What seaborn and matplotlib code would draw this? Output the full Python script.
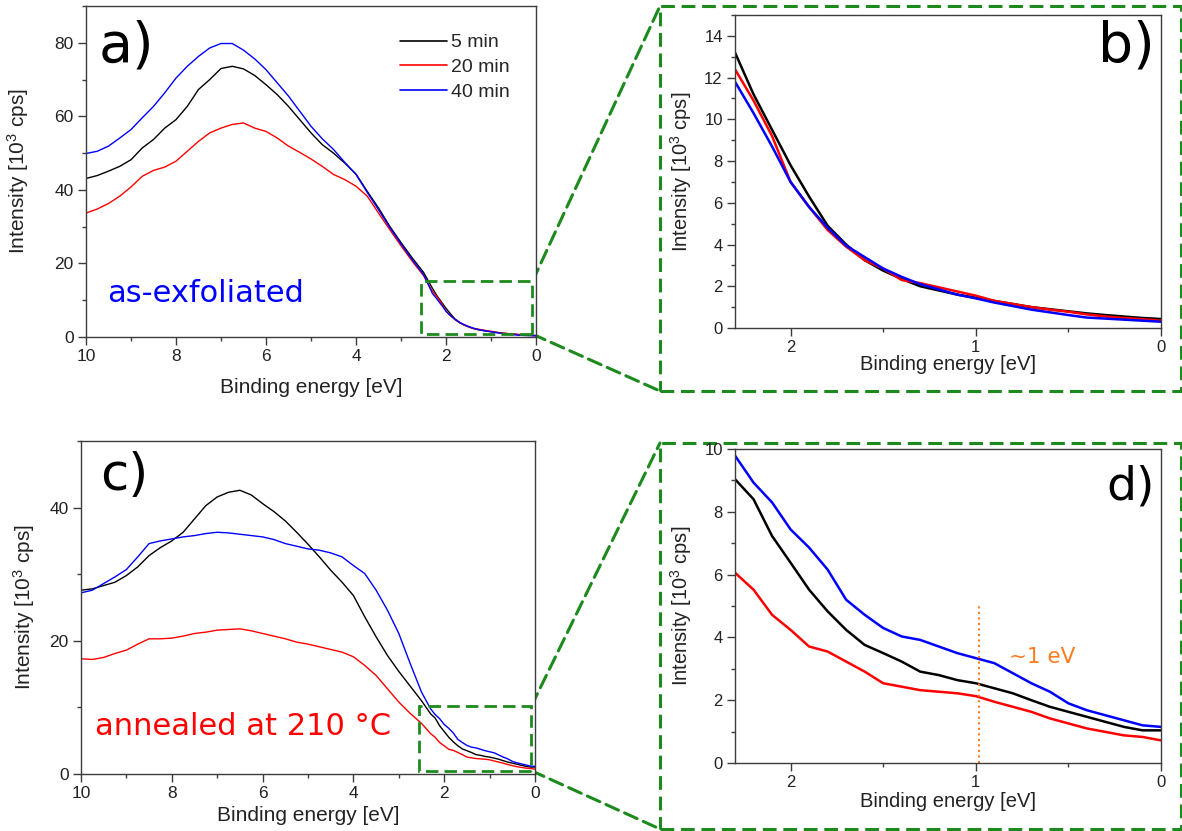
import matplotlib
matplotlib.use("Agg")
import matplotlib.pyplot as plt
import numpy as np
import pandas as pd
import seaborn as sns
from matplotlib.patches import Rectangle, ConnectionPatch
from matplotlib.ticker import MultipleLocator

# ---------------------------------------------------------------------------
# Valence-band spectra, intensity in 10^3 cps
# ---------------------------------------------------------------------------
# binding energy grid [eV]: coarse over the full band, finer near the edge
energy_wide = [10.0, 9.75, 9.5, 9.25, 9.0, 8.75, 8.5, 8.25, 8.0, 7.75, 7.5,
               7.25, 7.0, 6.75, 6.5, 6.25, 6.0, 5.75, 5.5, 5.25, 5.0, 4.75,
               4.5, 4.25, 4.0, 3.75, 3.5, 3.25, 3.0, 2.75, 2.5]
energy_edge = [2.3, 2.2, 2.1, 2.0, 1.9, 1.8, 1.7, 1.6, 1.5, 1.4, 1.3, 1.2,
               1.1, 1.0, 0.9, 0.8, 0.7, 0.6, 0.5, 0.4, 0.3, 0.2, 0.1, 0.0]

times = ["5 min", "20 min", "40 min"]

# as-exfoliated
exf_5_wide = [43.1, 43.9, 45.1, 46.4, 48.2, 51.4, 53.7, 56.8, 59.1, 62.7, 67.3,
              70.0, 73.0, 73.6, 72.9, 71.1, 68.6, 65.9, 62.7, 59.1, 55.5, 52.3,
              50.0, 47.3, 44.3, 39.6, 35.1, 30.1, 25.7, 21.5, 17.6]
exf_20_wide = [33.7, 34.8, 36.3, 38.3, 40.8, 43.7, 45.3, 46.2, 47.8, 50.5, 53.2,
               55.5, 56.8, 57.8, 58.2, 56.8, 55.9, 54.1, 51.9, 50.2, 48.4, 46.4,
               44.2, 42.8, 41.0, 38.3, 33.7, 29.2, 24.8, 20.6, 16.7]
exf_40_wide = [49.9, 50.5, 51.9, 54.1, 56.4, 59.6, 62.7, 66.4, 70.4, 73.6, 76.3,
               78.6, 79.8, 79.8, 78.0, 75.6, 72.7, 69.1, 65.5, 61.4, 57.3, 53.9,
               51.0, 47.5, 44.2, 39.3, 34.6, 29.8, 25.3, 21.0, 17.0]
exf_5_edge = [13.2, 11.2, 9.5, 7.8, 6.3, 4.9, 4.0, 3.25, 2.75, 2.35, 2.0, 1.8,
              1.6, 1.45, 1.3, 1.15, 1.0, 0.9, 0.8, 0.7, 0.62, 0.55, 0.48, 0.43]
exf_20_edge = [12.4, 10.9, 9.2, 7.0, 5.8, 4.7, 3.9, 3.25, 2.85, 2.3, 2.15, 1.95,
               1.75, 1.55, 1.3, 1.15, 1.0, 0.88, 0.78, 0.65, 0.55, 0.48, 0.42, 0.35]
exf_40_edge = [11.8, 10.3, 8.7, 7.0, 5.8, 4.8, 3.95, 3.4, 2.85, 2.45, 2.1, 1.85,
               1.6, 1.42, 1.22, 1.05, 0.88, 0.75, 0.62, 0.5, 0.45, 0.4, 0.35, 0.3]

# annealed at 210 °C
ann_5_wide = [27.6, 27.8, 28.3, 28.8, 29.8, 31.1, 32.8, 34.0, 35.0, 36.3, 38.3,
              40.3, 41.6, 42.3, 42.6, 41.9, 40.6, 39.4, 38.0, 36.3, 34.5, 32.6,
              30.6, 28.8, 26.8, 23.6, 20.6, 17.8, 15.4, 13.2, 11.0]
ann_20_wide = [17.3, 17.2, 17.5, 18.1, 18.6, 19.5, 20.3, 20.3, 20.4, 20.7, 21.1,
               21.3, 21.6, 21.7, 21.8, 21.5, 21.1, 20.7, 20.3, 19.8, 19.5, 19.1,
               18.7, 18.3, 17.6, 16.3, 14.8, 12.8, 10.8, 9.1, 7.6]
ann_40_wide = [27.2, 27.6, 28.6, 29.6, 30.7, 32.6, 34.6, 35.0, 35.3, 35.6, 35.8,
               36.1, 36.3, 36.2, 36.0, 35.8, 35.6, 35.2, 34.6, 34.2, 33.8, 33.6,
               33.2, 32.6, 31.3, 30.1, 27.6, 24.6, 21.1, 16.6, 12.3]
ann_5_edge = [9.04, 8.4, 7.23, 6.38, 5.52, 4.83, 4.24, 3.76, 3.5, 3.23, 2.91, 2.8,
              2.64, 2.54, 2.38, 2.22, 2.0, 1.79, 1.63, 1.47, 1.31, 1.15, 1.04, 1.04]
ann_20_edge = [6.06, 5.52, 4.72, 4.24, 3.71, 3.55, 3.23, 2.91, 2.54, 2.43, 2.32, 2.27,
               2.22, 2.13, 1.95, 1.79, 1.63, 1.42, 1.26, 1.1, 0.99, 0.88, 0.83, 0.72]
ann_40_edge = [9.79, 8.93, 8.3, 7.44, 6.86, 6.16, 5.2, 4.72, 4.3, 4.03, 3.92, 3.71,
               3.5, 3.34, 3.18, 2.86, 2.54, 2.27, 1.9, 1.68, 1.52, 1.36, 1.2, 1.15]

# onset marker in the annealed spectra
onset_energy = 0.985
onset_top = 5.1


def spectra_frame(series):
    rows = []
    for label, wide, edge in series:
        energy = energy_wide + energy_edge
        values = wide + edge
        rows.append(pd.DataFrame({"energy": energy, "intensity": values,
                                  "time": label}))
    return pd.concat(rows, ignore_index=True)


exfoliated = spectra_frame([("5 min", exf_5_wide, exf_5_edge),
                            ("20 min", exf_20_wide, exf_20_edge),
                            ("40 min", exf_40_wide, exf_40_edge)])
annealed = spectra_frame([("5 min", ann_5_wide, ann_5_edge),
                          ("20 min", ann_20_wide, ann_20_edge),
                          ("40 min", ann_40_wide, ann_40_edge)])

palette = {"5 min": "#000000", "20 min": "#ff0000", "40 min": "#0000ff"}
green = "#1c8a1c"
orange = "#ff7b22"
ink = "#222222"
spine_col = "#3c3c3c"

sns.set_theme(style="ticks")
plt.rcParams["font.family"] = ["Liberation Sans", "DejaVu Sans"]
plt.rcParams["axes.edgecolor"] = spine_col
plt.rcParams["axes.linewidth"] = 1.0

W, H = 1182, 831
fig = plt.figure(figsize=(W / 100, H / 100), dpi=100)


def px_axes(left, top, right, bottom):
    return fig.add_axes([left / W, 1 - bottom / H, (right - left) / W,
                         (bottom - top) / H])


ax_a = px_axes(86, 6, 536, 337)
ax_b = px_axes(735, 15, 1161, 328)
ax_c = px_axes(81, 441, 535, 774)
ax_d = px_axes(735, 449, 1161, 763)

ylabel = "Intensity [10$\\mathregular{^3}$ cps]"
xlabel = "Binding energy [eV]"


def style_axes(ax, xlim, ylim, xmaj, xmin, ymaj, ymin, labelsize, ticksize,
               ylab_x, xlab_y):
    ax.set_xlim(*xlim)
    ax.set_ylim(*ylim)
    ax.xaxis.set_major_locator(MultipleLocator(xmaj))
    ax.xaxis.set_minor_locator(MultipleLocator(xmin))
    ax.yaxis.set_major_locator(MultipleLocator(ymaj))
    ax.yaxis.set_minor_locator(MultipleLocator(ymin))
    ax.tick_params(which="major", direction="out", length=5.8, width=1.0,
                   color=spine_col, labelcolor=ink, labelsize=ticksize, pad=3)
    ax.tick_params(which="minor", direction="out", length=3.0, width=1.0,
                   color=spine_col)
    ax.set_xlabel(xlabel, fontsize=labelsize, color=ink)
    ax.set_ylabel(ylabel, fontsize=labelsize, color=ink)
    ax.yaxis.set_label_coords(ylab_x, 0.5)
    ax.xaxis.set_label_coords(0.5, xlab_y)
    for s in ax.spines.values():
        s.set_visible(True)
        s.set_color(spine_col)


# overview panels
for ax, data in ((ax_a, exfoliated), (ax_c, annealed)):
    sns.lineplot(data=data, x="energy", y="intensity", hue="time",
                 hue_order=times, palette=palette, linewidth=1.0,
                 errorbar=None, ax=ax, legend=(ax is ax_a))

# edge close-ups
for ax, data in ((ax_b, exfoliated), (ax_d, annealed)):
    sns.lineplot(data=data, x="energy", y="intensity", hue="time",
                 hue_order=times, palette=palette, linewidth=1.8,
                 errorbar=None, ax=ax, legend=False)

style_axes(ax_a, (10, 0), (0, 90), 2, 1, 20, 10, 15, 12.5, -0.122, -0.124)
style_axes(ax_c, (10, 0), (0, 50), 2, 1, 20, 10, 15, 12.5, -0.097, -0.096)
style_axes(ax_b, (2.3, 0), (0, 15), 1, 0.5, 2, 1, 14.5, 12, -0.096, -0.086)
style_axes(ax_d, (2.3, 0), (0, 10), 1, 0.5, 2, 1, 14.5, 12, -0.096, -0.092)

# legend
handles, labels = ax_a.get_legend_handles_labels()
for h in handles:
    h.set_linewidth(1.2)
ax_a.legend(handles, labels, loc="upper left", bbox_to_anchor=(0.698, 0.916),
            frameon=False, fontsize=14, handlelength=2.4, handletextpad=0.2,
            labelspacing=0.36, borderpad=0, borderaxespad=0)

# panel letters
for ax, letter, x, y, ha, size in ((ax_a, "a)", 0.027, 0.831, "left", 40),
                                   (ax_b, "b)", 0.986, 0.85, "right", 40),
                                   (ax_c, "c)", 0.042, 0.853, "left", 37),
                                   (ax_d, "d)", 0.986, 0.838, "right", 34)):
    ax.text(x, y, letter, transform=ax.transAxes, ha=ha, va="baseline",
            fontsize=size, family="DejaVu Sans", color="black")

ax_a.text(0.047, 0.106, "as-exfoliated", transform=ax_a.transAxes,
          ha="left", va="baseline", fontsize=22, family="DejaVu Sans",
          color="#0000ff")
ax_c.text(0.031, 0.117, "annealed at 210 °C", transform=ax_c.transAxes,
          ha="left", va="baseline", fontsize=22, family="DejaVu Sans",
          color="#ff0000")

# onset marker
ax_d.vlines(onset_energy, 0, onset_top, colors=orange, linestyles=":",
            linewidth=1.5)
ax_d.text(0.823, 3.18, "~1 eV", ha="left", va="baseline", fontsize=15.5,
          family="DejaVu Sans", color=orange)

# zoom windows and their enlarged frames
dash = (0, (4.5, 2.2))
zoom_boxes = ((ax_a, (0.08, 0.8), (2.55, 15.1), (660, 6, 1181, 391)),
              (ax_c, (0.08, 0.5), (2.55, 10.2), (660, 443, 1181, 829)))
for ax, (x0, y0), (x1, y1), (fl, ft, fr, fb) in zoom_boxes:
    ax.add_patch(Rectangle((x0, y0), x1 - x0, y1 - y0, fill=False,
                           edgecolor=green, linewidth=2.0, linestyle=dash,
                           zorder=5))
    fig.add_artist(Rectangle((fl / W, 1 - fb / H), (fr - fl) / W,
                             (fb - ft) / H, transform=fig.transFigure,
                             fill=False, edgecolor=green, linewidth=2.2,
                             linestyle=dash, zorder=-1))
    for (xa, ya), (xb, yb) in (((x0, y1), (fl, ft)), ((x0, y0), (fl, fb))):
        con = ConnectionPatch(xyA=(xa, ya), coordsA=ax.transData,
                              xyB=(xb / W, 1 - yb / H),
                              coordsB=fig.transFigure, color=green,
                              linewidth=2.2, linestyle=dash, zorder=-1)
        fig.add_artist(con)

fig.savefig("out.png", dpi=100)
